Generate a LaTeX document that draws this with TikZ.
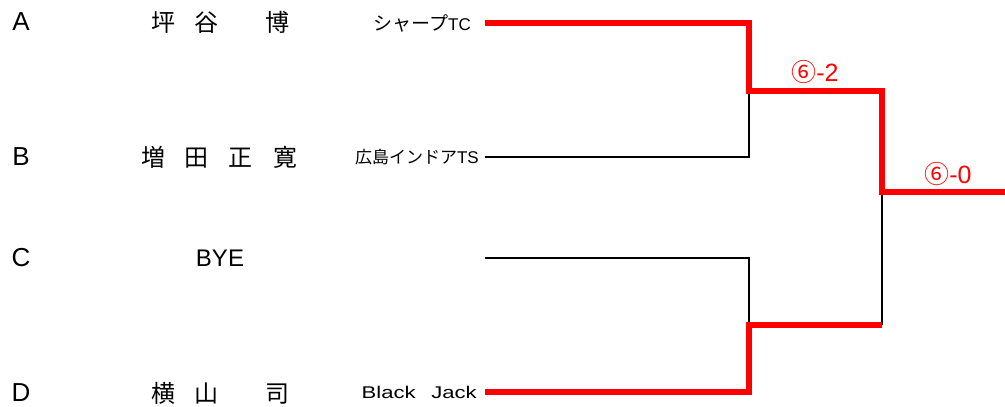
\documentclass[tikz,border=0pt]{standalone}
\usepackage{fontspec}
\setmainfont{Liberation Sans}
\newfontfamily\cjk{Noto Sans CJK JP}
\usetikzlibrary{positioning}

\tikzset{
  winline/.style={line width=6pt, red, line join=miter},
  loseline/.style={line width=2.2pt, black},
  seed/.style={font=\fontsize{26}{26}\selectfont},
  player/.style={font=\cjk\fontsize{24}{24}\selectfont},
  club/.style={anchor=east, inner sep=0pt, font=\fontsize{17}{17}\selectfont},
  score/.style={text=red, inner sep=0pt, font=\fontsize{25}{25}\selectfont}
}

\begin{document}
\begin{tikzpicture}[x=1pt, y=-1pt]
    \useasboundingbox (0,0) rectangle (1005,407);

    % Seeds
    \node[seed] (seedA) at (21,22) {A};
    \node[seed] (seedB) at (21,157) {B};
    \node[seed] (seedC) at (21,258) {C};
    \node[seed] (seedD) at (21,393) {D};

    % Players
    \node[player] (nameA) at (220,22) {坪\hspace{20pt}谷\hspace{46pt}博};
    \node[player] (nameB) at (219,157) {増\hspace{20pt}田\hspace{20pt}正\hspace{20pt}寛};
    \node[seed, font=\fontsize{24}{24}\selectfont] (nameC) at (220,258) {BYE};
    \node[player] (nameD) at (220,393) {横\hspace{20pt}山\hspace{46pt}司};

    % Clubs
    \node[club] (teamA) at (471,23) {{\cjk\fontsize{19}{19}\selectfont シャープ}TC};
    \node[club] (teamB) at (479,157) {{\cjk 広島インドア}TS};
    \node[club] (teamD) at (477,392) {\scalebox{1.3}[1]{Black\hspace{12pt}Jack}};

    % Bracket points
    \coordinate (endA) at (485,23);
    \coordinate (endB) at (485,157);
    \coordinate (endC) at (485,258);
    \coordinate (endD) at (485,392);
    \coordinate (semi1) at (749,91);
    \coordinate (semi2) at (749,325);
    \coordinate (final) at (882,192);
    \coordinate (champ) at (1005,192);

    % Lost lines
    \draw[loseline] (endB) -| (semi1);
    \draw[loseline] (endC) -| (semi2);
    \draw[loseline] (final) -- (final |- semi2);

    % Winning path
    \draw[winline] (endA) -| (semi1) -| (final) -- (champ);
    \draw[winline] (endD) -| (semi2) -- (semi2 -| final);

    % Scores
    \node[score] (score1) at (815,72) {{\cjk ⑥}-2};
    \node[score] (score2) at (948,174) {{\cjk ⑥}-0};
\end{tikzpicture}
\end{document}
